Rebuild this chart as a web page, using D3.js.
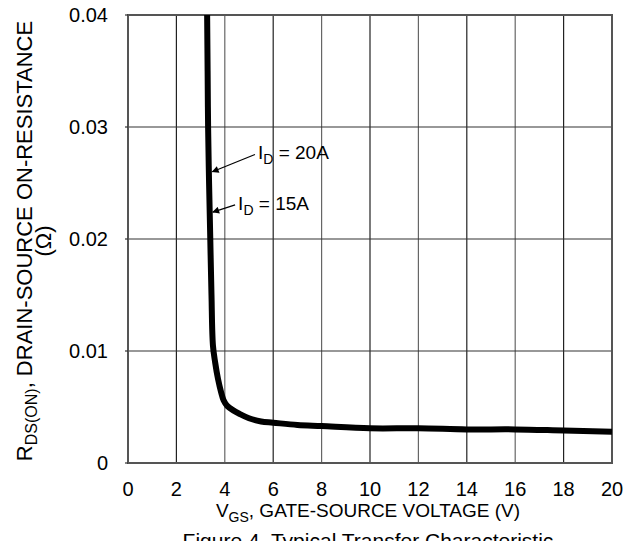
<!DOCTYPE html>
<html>
<head>
<meta charset="utf-8">
<script src="https://cdn.jsdelivr.net/npm/d3@7"></script>
<style>
  html, body { margin: 0; padding: 0; background: #fff; }
  svg { display: block; font-family: "Liberation Sans", Arial, sans-serif; }
</style>
</head>
<body>
<svg id="chart" width="642" height="541"></svg>
<script>
// On-resistance vs gate-source voltage
const vgs = [3.27, 3.29, 3.31, 3.35, 3.40, 3.45, 3.51, 3.60, 3.72, 3.85, 3.95, 4.10, 4.35, 4.60, 5.0, 5.5, 6.0, 7.0, 8.0, 10.0, 12.0, 14.0, 16.0, 18.0, 20.0];
const rds = [0.0400, 0.0350, 0.0300, 0.0250, 0.0200, 0.0150, 0.0105, 0.0090, 0.0075, 0.0063, 0.0056, 0.0051, 0.0047, 0.0044, 0.0040, 0.0037, 0.0036, 0.0034, 0.0033, 0.0031, 0.0031, 0.0030, 0.0030, 0.0029, 0.0028];
const xTicks = [0, 2, 4, 6, 8, 10, 12, 14, 16, 18, 20];
const yTicks = [0, 0.01, 0.02, 0.03, 0.04];
const yTickLabels = ["0", "0.01", "0.02", "0.03", "0.04"];
// callouts: arrow tip on the curve, label baseline position
const annotations = [
  { current: "20", vAt: 3.36, rAt: 0.0260, textV: 5.37, textR: 0.0271 },
  { current: "15", vAt: 3.38, rAt: 0.0224, textV: 4.55, textR: 0.0226 }
];

const svg = d3.select("#chart");
const plotL = 128, plotR = 612, plotT = 15, plotB = 463;

const x = d3.scaleLinear().domain([0, 20]).range([plotL, plotR]);
const y = d3.scaleLinear().domain([0, 0.04]).range([plotB, plotT]);

// grid
const g = svg.append("g");
g.selectAll(".vg").data(xTicks.slice(1, -1)).enter().append("line")
  .attr("x1", d => x(d)).attr("x2", d => x(d))
  .attr("y1", plotT).attr("y2", plotB)
  .attr("stroke", (d, i) => i % 2 === 0 ? "#222" : "#666").attr("stroke-width", 1.2);
g.selectAll(".hg").data(yTicks.slice(1, -1)).enter().append("line")
  .attr("x1", plotL).attr("x2", plotR)
  .attr("y1", d => y(d)).attr("y2", d => y(d))
  .attr("stroke", "#333").attr("stroke-width", 1.2);

// frame
g.append("rect").attr("x", plotL).attr("y", plotT)
  .attr("width", plotR - plotL).attr("height", plotB - plotT)
  .attr("fill", "none").attr("stroke", "#555").attr("stroke-width", 2);

// y ticks (short outward marks)
g.selectAll(".yt").data(yTicks).enter().append("line")
  .attr("x1", plotL - 3).attr("x2", plotL)
  .attr("y1", d => y(d)).attr("y2", d => y(d))
  .attr("stroke", "#333").attr("stroke-width", 1.2);

// tick labels
svg.append("g").selectAll("text").data(yTicks).enter().append("text")
  .attr("x", 108).attr("y", d => y(d) + 7)
  .attr("text-anchor", "end").attr("font-size", 20).attr("fill", "#000")
  .text((d, i) => yTickLabels[i]);
svg.append("g").selectAll("text").data(xTicks).enter().append("text")
  .attr("x", d => x(d)).attr("y", 496)
  .attr("text-anchor", "middle").attr("font-size", 20).attr("fill", "#000")
  .text(d => d);

// curve
svg.append("path").datum(rds)
  .attr("d", d3.line().x((d, i) => x(vgs[i])).y(d => y(d)).curve(d3.curveCatmullRom.alpha(0.5)))
  .attr("fill", "none").attr("stroke", "#000").attr("stroke-width", 6)
  .attr("stroke-linejoin", "round");

// arrow marker
svg.append("defs").append("marker")
  .attr("id", "arr").attr("viewBox", "0 0 10 10")
  .attr("refX", 9).attr("refY", 5)
  .attr("markerWidth", 10).attr("markerHeight", 7)
  .attr("markerUnits", "userSpaceOnUse")
  .attr("orient", "auto")
  .append("path").attr("d", "M0,0 L10,5 L0,10 Z").attr("fill", "#000");

annotations.forEach(a => {
  const tx = x(a.textV), ty = y(a.textR);
  svg.append("line")
    .attr("x1", tx - 3).attr("y1", ty - 5)
    .attr("x2", x(a.vAt) + 3).attr("y2", y(a.rAt))
    .attr("stroke", "#000").attr("stroke-width", 1.2)
    .attr("marker-end", "url(#arr)");
  const t = svg.append("text").attr("x", tx).attr("y", ty)
    .attr("font-size", 19).attr("fill", "#000");
  t.append("tspan").text("I");
  t.append("tspan").attr("dy", 5).attr("font-size", 14).text("D");
  t.append("tspan").attr("dy", -5).text(" = " + a.current + "A");
});

// axis titles
const xt = svg.append("text").attr("x", 368).attr("y", 517)
  .attr("text-anchor", "middle").attr("font-size", 19).attr("fill", "#000");
xt.append("tspan").text("V");
xt.append("tspan").attr("dy", 5).attr("font-size", 14).text("GS");
xt.append("tspan").attr("dy", -5).text(", GATE-SOURCE VOLTAGE (V)");

// figure caption, partly below the bottom edge
svg.append("text").attr("x", 368).attr("y", 548)
  .attr("text-anchor", "middle").attr("font-size", 21).attr("fill", "#000")
  .text("Figure 4. Typical Transfer Characteristic");

const yt = svg.append("text").attr("transform", "translate(32,241) rotate(-90)")
  .attr("text-anchor", "middle").attr("font-size", 22).attr("fill", "#000");
yt.append("tspan").text("R");
yt.append("tspan").attr("dy", 5).attr("font-size", 16).text("DS(ON)");
yt.append("tspan").attr("dy", -5).text(", DRAIN-SOURCE ON-RESISTANCE");

svg.append("text").attr("transform", "translate(51,241) rotate(-90)")
  .attr("text-anchor", "middle").attr("font-size", 22).attr("fill", "#000")
  .text("(\u03A9)");
</script>
</body>
</html>
